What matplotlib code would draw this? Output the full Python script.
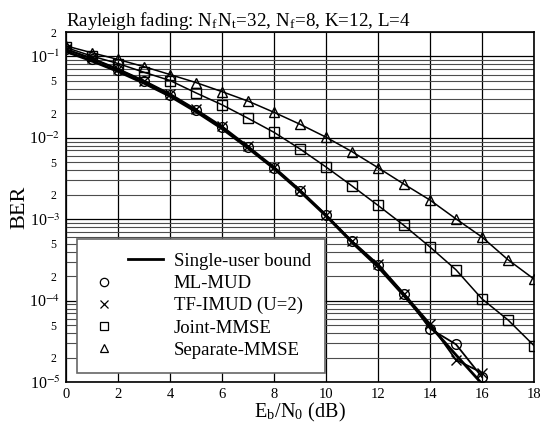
import matplotlib
matplotlib.use("Agg")
import matplotlib.pyplot as plt
from matplotlib.lines import Line2D
from matplotlib.legend_handler import HandlerBase
from matplotlib.ticker import FixedLocator, FixedFormatter

"""
BER vs Eb/N0 for multiuser detectors, Rayleigh fading.
"""

snr = list(range(0, 19))
snr_bound = list(range(0, 17))

bound = [0.115, 0.088, 0.0655, 0.047, 0.0325, 0.021, 0.013, 0.0075, 0.0042,
         0.0022, 0.0011, 5.2e-4, 2.6e-4, 1.15e-4, 4.9e-5, 2.15e-5, 9.5e-6]
ml_mud = [0.122, 0.0937, 0.0692, 0.0497, 0.034, 0.0218, 0.0135, 0.00766,
          0.00427, 0.00224, 0.00112, 5.33e-4, 2.75e-4, 1.2e-4, 4.52e-5,
          2.9e-5, 1.15e-5]
tf_imud = [0.123, 0.095, 0.0705, 0.0505, 0.0348, 0.0224, 0.0139, 0.0079,
           0.0044, 0.0023, 0.00114, 5.4e-4, 2.8e-4, 1.22e-4, 5.2e-5,
           1.87e-5, 1.3e-5]
joint_mmse = [0.129, 0.101, 0.082, 0.064, 0.0507, 0.0357, 0.0255, 0.0174,
              0.0117, 0.00731, 0.00439, 0.00257, 0.00148, 8.4e-4, 4.56e-4,
              2.39e-4, 1.05e-4, 5.79e-5, 2.8e-5]
sep_mmse = [0.135, 0.111, 0.092, 0.075, 0.060, 0.0478, 0.037, 0.0283,
            0.0206, 0.0147, 0.0102, 0.00677, 0.0043, 0.0027, 0.00172,
            0.00101, 6.04e-4, 3.18e-4, 1.84e-4]

labels = ['Single-user bound', 'ML-MUD', 'TF-IMUD (U=2)', 'Joint-MMSE',
          'Separate-MMSE']

plt.rcParams['font.family'] = ['Liberation Serif', 'DejaVu Serif']
plt.rcParams['mathtext.fontset'] = 'stix'


# legend: markers sit on the left of the handle box, the line on the right
class RightLine(HandlerBase):
    def create_artists(self, legend, orig, xd, yd, w, h, fs, trans):
        y = h / 2 - yd
        return [Line2D([-xd + 0.51 * w, -xd + w], [y, y], color='black',
                       lw=2.0, transform=trans)]


class LeftMarker(HandlerBase):
    def create_artists(self, legend, orig, xd, yd, w, h, fs, trans):
        y = h / 2 - yd
        return [Line2D([-xd + 0.18 * w], [y], ls='none',
                       marker=orig.get_marker(), markerfacecolor='none',
                       markeredgecolor='black', markersize=6,
                       markeredgewidth=0.9, transform=trans)]


def main():
    fig = plt.figure(figsize=(5.53, 4.24), dpi=100)
    ax = fig.add_axes([66 / 553, 1 - 382 / 424, 468 / 553, 350 / 424])

    mk = dict(color='black', markerfacecolor='none', markeredgecolor='black',
              markersize=7, markeredgewidth=1.0)
    lb, = ax.plot(snr_bound, bound, color='black', lw=2.0)
    l1, = ax.plot(snr_bound, ml_mud, marker='o', lw=1.3, **mk)
    l2, = ax.plot(snr_bound, tf_imud, marker='x', lw=1.3, **mk)
    l3, = ax.plot(snr, joint_mmse, marker='s', lw=1.1, **mk)
    l4, = ax.plot(snr, sep_mmse, marker='^', lw=1.1, **mk)

    ax.set_yscale('log')
    ax.set_xlim(0, 18)
    ax.set_ylim(1e-5, 2e-1)

    ax.set_xticks(range(0, 19, 2))
    majors = [1e-5, 1e-4, 1e-3, 1e-2, 1e-1]
    ax.yaxis.set_major_locator(FixedLocator(majors))
    ax.yaxis.set_major_formatter(FixedFormatter(
        ['10$^{-5}$', '10$^{-4}$', '10$^{-3}$', '10$^{-2}$', '10$^{-1}$']))
    minors, minor_labels = [], []
    for e in range(-5, 0):
        for m in range(2, 10):
            v = m * 10.0 ** e
            if v > 0.2001:
                continue
            minors.append(v)
            minor_labels.append(str(m) if m in (2, 5) else '')
    ax.yaxis.set_minor_locator(FixedLocator(minors))
    ax.yaxis.set_minor_formatter(FixedFormatter(minor_labels))

    ax.tick_params(axis='both', which='both', length=0)
    ax.tick_params(axis='y', which='major', labelsize=11.5, pad=4)
    ax.tick_params(axis='y', which='minor', labelsize=8.5, pad=7)
    ax.tick_params(axis='x', labelsize=10.5, pad=4)

    ax.grid(True, which='major', axis='both', color='black', lw=0.9)
    ax.grid(True, which='minor', axis='y', color='0.3', lw=0.8)
    for s in ax.spines.values():
        s.set_linewidth(1.2)

    ax.set_xlabel('E$_\\mathregular{b}$/N$_\\mathregular{0}$ (dB)', fontsize=14.5)
    ax.xaxis.set_label_coords(0.5, -0.055)
    ax.set_ylabel('BER', fontsize=16, labelpad=0)
    ax.set_title('Rayleigh fading: N$_\\mathregular{f}$N$_\\mathregular{t}$=32, '
                 'N$_\\mathregular{f}$=8, K=12, L=4',
                 fontsize=13.7, loc='left', pad=4)

    leg = ax.legend([lb, l1, l2, l3, l4], labels, loc='lower left',
                    bbox_to_anchor=(0.024, 0.026), fontsize=13.5,
                    handler_map={lb: RightLine(), l1: LeftMarker(),
                                 l2: LeftMarker(), l3: LeftMarker(),
                                 l4: LeftMarker()},
                    fancybox=False, framealpha=1, edgecolor='0.4',
                    handlelength=3.85, handletextpad=0.55, borderpad=0.75,
                    labelspacing=0.27, borderaxespad=0)
    leg.get_frame().set_linewidth(1.2)

    fig.savefig('out.png', dpi=100)


if __name__ == "__main__":
    main()
